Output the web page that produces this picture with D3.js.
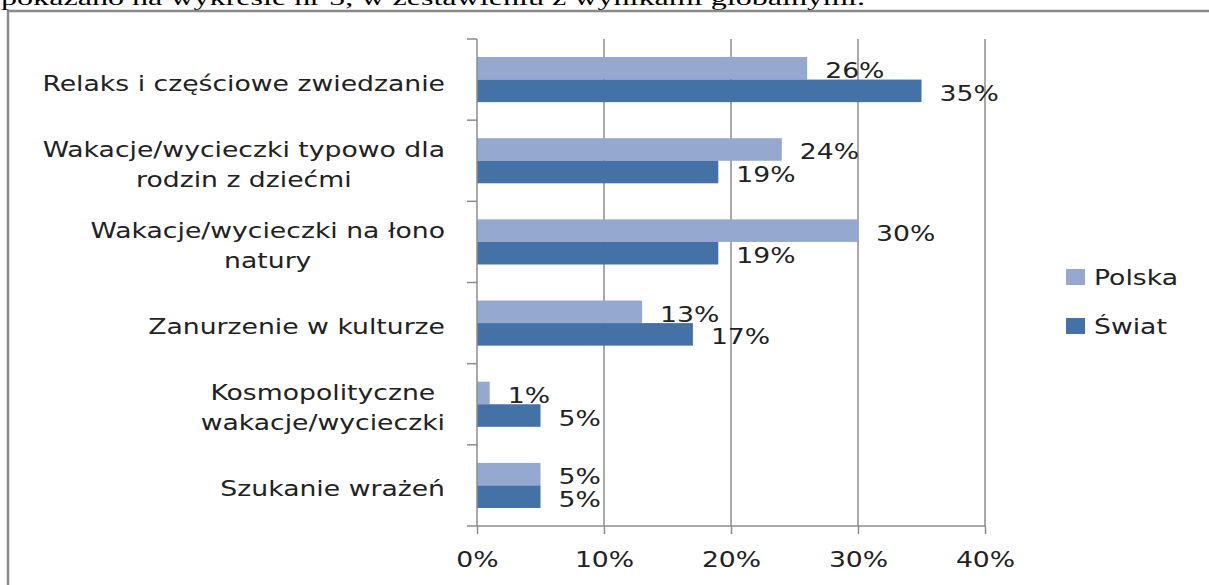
<!DOCTYPE html>
<html>
<head>
<meta charset="utf-8">
<script src="https://cdn.jsdelivr.net/npm/d3@7"></script>
<style>
  body { margin: 0; background: #fff; }
  text { font-family: "DejaVu Sans", sans-serif; fill: #222; }
</style>
</head>
<body>
<div id="chart"></div>
<script>
const categories = [
    ["Relaks i częściowe zwiedzanie"],
    ["Wakacje/wycieczki typowo dla", "rodzin z dziećmi"],
    ["Wakacje/wycieczki na łono", "natury"],
    ["Zanurzenie w kulturze"],
    ["Kosmopolityczne", "wakacje/wycieczki"],
    ["Szukanie wrażeń"]
];
const seriesNames = ["Polska", "Świat"];
const polska = [26, 24, 30, 13, 1, 5];
const swiat = [35, 19, 19, 17, 5, 5];
const xTicks = [0, 10, 20, 30, 40];
const introText = "pokazano na wykresie nr 5, w zestawieniu z wynikami globalnymi.";

const width = 1209, height = 585;
const colors = {"Polska": "#94a8d0", "Świat": "#4471a6"};
const fontSize = 20.5;
const stretchX = 1.3;   // the picture is wider than tall, text looks stretched

// widen text horizontally
function stretch(sel) {
    sel.each(function() {
        const w = this.getComputedTextLength();
        d3.select(this)
            .attr("textLength", w * stretchX)
            .attr("lengthAdjust", "spacingAndGlyphs");
    });
}

const svg = d3.select("#chart").append("svg")
    .attr("width", width)
    .attr("height", height);

svg.append("rect").attr("width", width).attr("height", height).attr("fill", "#fff");

// text of the document above the chart, cut at top
svg.append("text")
    .attr("x", 1).attr("y", 5)
    .attr("textLength", 864)
    .attr("lengthAdjust", "spacingAndGlyphs")
    .style("font-family", "'Liberation Serif', serif")
    .style("font-size", "21px")
    .style("fill", "#000")
    .text(introText);

// chart frame
svg.append("rect")
    .attr("x", 8).attr("y", 11)
    .attr("width", width + 20).attr("height", height + 20)
    .attr("fill", "#fff")
    .attr("stroke", "#8a8a8a")
    .attr("stroke-width", 2.5);

const keys = categories.map((d, i) => i);
const data = keys.map(i => ({i: i, "Polska": polska[i], "Świat": swiat[i]}));

const x = d3.scaleLinear().domain([0, 40]).range([477, 985]);
const y = d3.scaleBand().domain(keys).range([39, 526]).padding(0);
const ySub = d3.scaleBand().domain(seriesNames).range([0, y.bandwidth()])
    .paddingInner(0).paddingOuter(0.8);

const grid = "#8c8c8c";

// vertical gridlines
svg.append("g").selectAll("line")
    .data(xTicks.slice(1))
    .join("line")
    .attr("x1", d => x(d)).attr("x2", d => x(d))
    .attr("y1", y.range()[0]).attr("y2", y.range()[1])
    .attr("stroke", grid).attr("stroke-width", 1.5);

// bars
const groups = svg.append("g").selectAll("g")
    .data(data)
    .join("g")
    .attr("transform", d => `translate(0,${y(d.i)})`);

groups.selectAll("rect")
    .data(d => seriesNames.map(k => ({key: k, value: d[k]})))
    .join("rect")
    .attr("x", x(0))
    .attr("y", d => ySub(d.key))
    .attr("width", d => x(d.value) - x(0))
    .attr("height", ySub.bandwidth())
    .attr("fill", d => colors[d.key]);

groups.selectAll("text.val")
    .data(d => seriesNames.map(k => ({key: k, value: d[k]})))
    .join("text")
    .attr("class", "val")
    .attr("x", d => x(d.value) + 18)
    .attr("y", d => ySub(d.key) + ySub.bandwidth() / 2 + 10)
    .style("font-size", fontSize + "px")
    .text(d => d.value + "%")
    .call(stretch);

// bottom axis
const xAxis = d3.axisBottom(x)
    .tickValues(xTicks)
    .tickSize(8)
    .tickPadding(18)
    .tickFormat(d => d + "%");

const gx = svg.append("g")
    .attr("transform", `translate(0,${y.range()[1]})`)
    .call(xAxis);
gx.select(".domain").remove();
gx.selectAll("line").attr("stroke", grid).attr("stroke-width", 1.5);
gx.selectAll("text")
    .style("font-size", fontSize + "px")
    .style("font-family", "'DejaVu Sans', sans-serif")
    .attr("fill", "#222")
    .call(stretch);
gx.append("line")
    .attr("x1", x(0) - 10).attr("x2", x(40))
    .attr("y1", 0).attr("y2", 0)
    .attr("stroke", grid).attr("stroke-width", 1.5);

// category axis
svg.append("line")
    .attr("x1", x(0)).attr("x2", x(0))
    .attr("y1", y.range()[0]).attr("y2", y.range()[1])
    .attr("stroke", grid).attr("stroke-width", 1.5);
svg.append("g").selectAll("line")
    .data(keys.map(k => y(k)))
    .join("line")
    .attr("x1", x(0) - 10).attr("x2", x(0))
    .attr("y1", d => d).attr("y2", d => d)
    .attr("stroke", grid).attr("stroke-width", 1.5);

// category labels: block right-aligned, lines centred inside
const lineH = 30;
const labelRight = 445;
categories.forEach((lines, i) => {
    const g = svg.append("g");
    const cy = y(i) + y.bandwidth() / 2;
    const tx = g.selectAll("text")
        .data(lines)
        .join("text")
        .attr("y", (d, j) => cy + 11 + (j - (lines.length - 1) / 2) * lineH)
        .attr("text-anchor", "middle")
        .style("font-size", fontSize + "px")
        .text(d => d);
    let maxW = 0;
    tx.each(function() { maxW = Math.max(maxW, this.getComputedTextLength()); });
    tx.call(stretch);
    tx.attr("x", labelRight - maxW * stretchX / 2);
});

// legend
const legend = svg.append("g").attr("transform", "translate(1066,269)");
seriesNames.forEach((s, i) => {
    const item = legend.append("g").attr("transform", `translate(0,${i * 49})`);
    item.append("rect")
        .attr("width", 19).attr("height", 16)
        .attr("fill", colors[s]);
    item.append("text")
        .attr("x", 28).attr("y", 16)
        .style("font-size", fontSize + "px")
        .text(s)
        .call(stretch);
});
</script>
</body>
</html>
